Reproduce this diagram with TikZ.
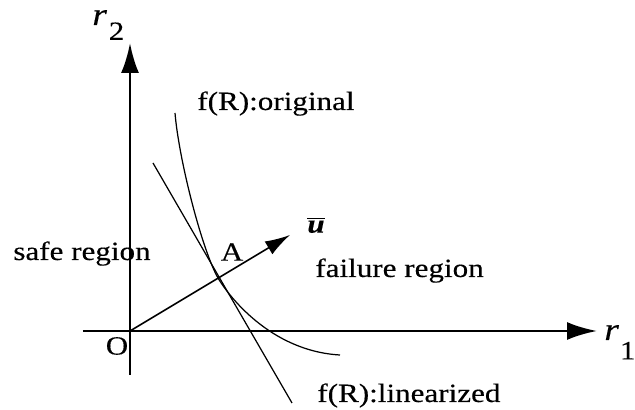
\documentclass[tikz,border=0pt]{standalone}
\usepackage{fontspec}
\setmainfont{Liberation Serif}
\newfontfamily\lblfont[FakeStretch=1.18,FakeBold=0.3]{Liberation Serif}
\usetikzlibrary{arrows.meta}

\begin{document}
\begin{tikzpicture}[
  axis/.style={line width=1.6pt,-{Latex[length=6mm,width=3.6mm]}},
  curve/.style={line width=0.7pt},
  lbl/.style={font=\lblfont\fontsize{15}{18}\selectfont,inner sep=0pt},
  axlbl/.style={font=\lblfont\fontsize{18}{20}\selectfont,inner sep=0pt,anchor=base west},
]
\useasboundingbox (-2.6,-1.58) rectangle (10.1,6.62);
\coordinate (O) at (0,0);
\coordinate (xs) at (-0.94,0);
\coordinate (xe) at (9.34,0);
\coordinate (ys) at (0,-0.88);
\coordinate (ye) at (0,5.76);
\coordinate (u) at (3.2,1.92);
\coordinate (ltop) at (0.46,3.36);
\coordinate (lbot) at (3.24,-1.44);
\coordinate (A) at (1.76,1.06);
\draw[axis] (xs) -- (xe);
\draw[axis] (ys) -- (ye);
\draw[line width=0.9pt,-{Latex[length=5mm,width=3mm]}] (O) -- (u);
\draw[curve] (ltop) -- (lbot);
\draw[curve] (0.9,4.36) .. controls (0.98,3.4) and (1.45,1.6) .. (A)
  .. controls (1.96,0.72) and (2.8,-0.4) .. (4.2,-0.48);
\node[lbl,anchor=base west] (orig) at (1.34,4.42) {f(R):original};
\node[lbl,anchor=base west] (lin) at (3.74,-1.42) {f(R):linearized};
\node[lbl,anchor=base west] (safe) at (-2.34,1.42) {safe region};
\node[lbl,anchor=base west] (fail) at (3.7,1.08) {failure region};
\node[lbl] (Alab) at (2.04,1.58) {A};
\node[lbl] (Olab) at (-0.26,-0.3) {O};
\node[lbl] (ubar) at (3.72,2.12) {$\overline{\mbox{\lblfont\bfseries\itshape u}}$};
\node[axlbl] (r2) at (-0.76,6.12) {\textit{r}\kern1pt\raisebox{-8.5pt}{\fontsize{15}{17}\selectfont 2}};
\node[axlbl] (r1) at (9.48,-0.18) {\textit{r}\kern0.5pt\raisebox{-11pt}{\fontsize{15}{17}\selectfont 1}};
\end{tikzpicture}
\end{document}
